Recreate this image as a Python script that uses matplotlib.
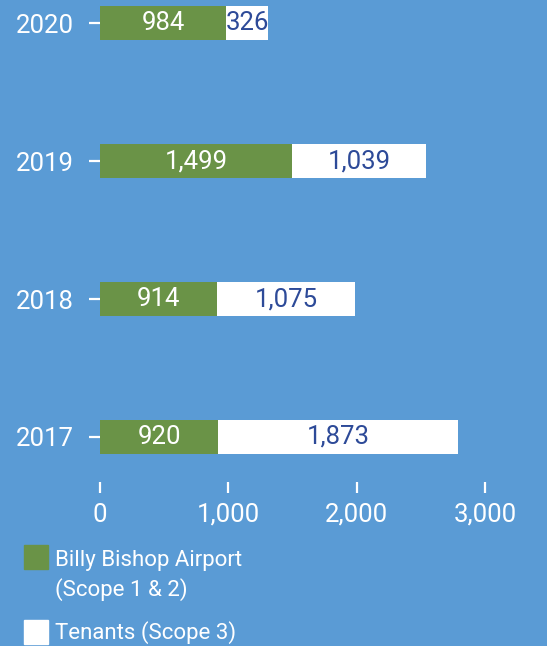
import matplotlib.pyplot as plt
from matplotlib.patches import Rectangle

years = ["2017", "2018", "2019", "2020"]
airport = [920, 914, 1499, 984]
tenants = [1873, 1075, 1039, 326]
xticks = [0, 1000, 2000, 3000]
legend_labels = ["Billy Bishop Airport\n(Scope 1 & 2)", "Tenants (Scope 3)"]

bg = "#5A9BD5"
green = "#6A9347"
navy = "#2D4A98"

plt.rcParams["font.family"] = ["Roboto", "DejaVu Sans"]

fig = plt.figure(figsize=(5.47, 6.46), dpi=100, facecolor=bg)
ax = fig.add_axes([100 / 547, 1 - 493 / 646, 385 / 547, 493 / 646])
ax.set_facecolor(bg)

pos = range(len(years))
b1 = ax.barh(pos, airport, height=0.24, color=green)
b2 = ax.barh(pos, tenants, left=airport, height=0.24, color="white")
ax.bar_label(b1, labels=[f"{v:,}" for v in airport], label_type="center",
             color="white", fontsize=18.5)
ax.bar_label(b2, labels=[f"{v:,}" for v in tenants], label_type="center",
             color=navy, fontsize=18.5)

ax.set_xlim(0, 3000)
ax.set_ylim(-0.406, 3.167)
ax.set_xticks(xticks)
ax.set_xticklabels([f"{v:,}" for v in xticks])
ax.set_yticks(list(pos))
ax.set_yticklabels(years)
ax.tick_params(axis="x", direction="in", length=8, width=1.6, colors="white",
               labelsize=18.5, pad=7)
ax.tick_params(axis="y", direction="out", length=8, width=1.6, colors="white",
               labelsize=18.5, pad=11)
for s in ax.spines.values():
    s.set_visible(False)

# legend
sw = 24 / 547
sh = 24 / 646
fig.patches.append(Rectangle((24 / 547, 1 - 569 / 646), sw, sh, color=green,
                             transform=fig.transFigure))
fig.patches.append(Rectangle((24 / 547, 1 - 644 / 646), sw, sh, color="white",
                             transform=fig.transFigure))
fig.text(55 / 547, 1 - 550 / 646, legend_labels[0], color="white", fontsize=16,
         va="top", ha="left", linespacing=1.4)
fig.text(55 / 547, 1 - 633 / 646, legend_labels[1], color="white", fontsize=16,
         va="center", ha="left")

fig.savefig("out.png", dpi=100, facecolor=bg)
